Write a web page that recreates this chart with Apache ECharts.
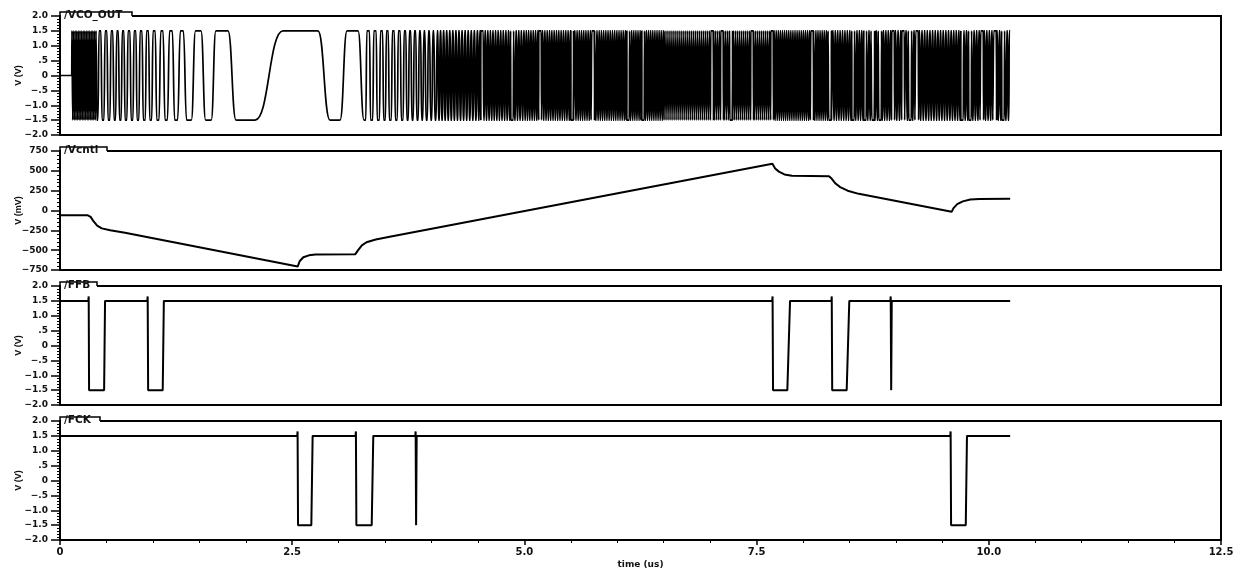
<!DOCTYPE html>
<html>
<head>
<meta charset="utf-8">
<title>Transient waveforms</title>
<script src="https://cdn.jsdelivr.net/npm/echarts@6/dist/echarts.min.js"></script>
<style>
  html, body { margin: 0; padding: 0; background: #fff; }
  #chart { width: 1234px; height: 571px; }
</style>
</head>
<body>
<div id="chart"></div>
<script>
// ---- axis ticks -------------------------------------------------------
const timeTicks = [0, 2.5, 5.0, 7.5, 10.0, 12.5];
const timeTickLabels = ['0', '2.5', '5.0', '7.5', '10.0', '12.5'];
const voltTicks = [2, 1.5, 1, 0.5, 0, -0.5, -1, -1.5, -2];
const voltTickLabels = ['2.0', '1.5', '1.0', '.5', '0', '\u2212.5', '\u22121.0', '\u22121.5', '\u22122.0'];
const mvTicks = [750, 500, 250, 0, -250, -500, -750];
const mvTickLabels = ['750', '500', '250', '0', '\u2212250', '\u2212500', '\u2212750'];

const signalNames = ['/VCO_OUT', '/Vcntl', '/FFB', '/FCK'];
const unitNames = ['V (V)', 'V (mV)', 'V (V)', 'V (V)'];

// ---- /VCO_OUT (V) -------------------------------------------------------
const vcoRail = 1.5;
const vcoStart = 0.126;          // output idles at 0 V before this
const vcoEnd = 10.23;
// fast stretches: [from us, to us, full cycles]
const vcoBurstsEarly = [[0.126, 0.403, 16]];
// resolvable switching edges: [edge start us, edge end us], alternating rise/fall
const vcoEdges = [
  [0.408, 0.421], [0.440, 0.453], [0.473, 0.486], [0.505, 0.518], [0.537, 0.550],
  [0.568, 0.582], [0.598, 0.612], [0.628, 0.641], [0.658, 0.671], [0.688, 0.701],
  [0.720, 0.733], [0.753, 0.766], [0.785, 0.798], [0.817, 0.830], [0.849, 0.863],
  [0.883, 0.897], [0.918, 0.932], [0.953, 0.967], [0.987, 1.002], [1.025, 1.042],
  [1.066, 1.085], [1.109, 1.131], [1.156, 1.180], [1.209, 1.235], [1.266, 1.296],
  [1.328, 1.363], [1.414, 1.459], [1.518, 1.568], [1.628, 1.678],
  [1.809, 1.895], [2.100, 2.401], [2.778, 2.907], [3.015, 3.090], [3.209, 3.273],
  [3.292, 3.304], [3.332, 3.344], [3.367, 3.379], [3.404, 3.416], [3.439, 3.451],
  [3.473, 3.485], [3.503, 3.515], [3.534, 3.546], [3.567, 3.579], [3.599, 3.611],
  [3.631, 3.643], [3.663, 3.675], [3.694, 3.706], [3.723, 3.735], [3.750, 3.762],
  [3.777, 3.789], [3.803, 3.815], [3.830, 3.842], [3.857, 3.869], [3.882, 3.894],
  [3.906, 3.918], [3.929, 3.941], [3.955, 3.967], [3.979, 3.991], [4.003, 4.015],
  [4.025, 4.037], [4.049, 4.061]
];
const vcoBurstsLate = [
  [4.07, 4.5, 13], [4.5, 5.0, 18], [5.0, 5.5, 20], [5.5, 6.0, 21], [6.0, 6.5, 22],
  [6.5, 7.0, 23], [7.0, 7.67, 31], [7.67, 8.3, 28], [8.3, 9.0, 27], [9.0, 9.6, 21],
  [9.6, 10.23, 23]
];
// instants inside the fast stretches where a slightly longer plateau shows through
const vcoGapTimes = [4.544, 4.867, 5.168, 5.513, 5.739, 6.116, 6.277, 7.020, 7.127, 7.225,
  7.451, 7.666, 8.097, 8.290, 8.538, 8.667, 8.754, 8.829, 8.969, 9.077, 9.152, 9.227,
  9.712, 9.798, 9.927, 10.067, 10.153];
const vcoGapWidth = 0.026;

// ---- /Vcntl (mV) ----------------------------------------------------------
const vcntlTime = [0, 0.30, 0.33, 0.36, 0.40, 0.45, 0.54, 0.70, 2.56, 2.58, 2.62, 2.68, 2.75,
  3.18, 3.21, 3.25, 3.30, 3.40, 3.55, 7.67, 7.70, 7.74, 7.80, 7.88, 8.28, 8.31, 8.35, 8.40,
  8.48, 8.60, 9.60, 9.62, 9.66, 9.72, 9.80, 9.90, 10.23];
const vcntlMv = [-60, -60, -80, -135, -190, -225, -250, -280, -705, -640, -590, -565, -555,
  -550, -500, -440, -400, -365, -330, 590, 530, 490, 455, 438, 432, 400, 340, 295,
  250, 210, -17, 30, 80, 115, 138, 145, 147];

// ---- /FFB (V) -------------------------------------------------------------
const ffbTime = [0, 0.305, 0.309, 0.313, 0.475, 0.485, 0.940, 0.944, 0.949, 1.106, 1.118,
  7.668, 7.672, 7.677, 7.831, 7.860, 8.305, 8.309, 8.314, 8.470, 8.498, 8.940, 8.944, 8.949,
  8.955, 10.23];
const ffbVolt = [1.5, 1.5, 1.65, -1.5, -1.5, 1.5, 1.5, 1.65, -1.5, -1.5, 1.5,
  1.5, 1.65, -1.5, -1.5, 1.5, 1.5, 1.65, -1.5, -1.5, 1.5, 1.5, 1.65, -1.5,
  1.5, 1.5];

// ---- /FCK (V) -------------------------------------------------------------
const fckTime = [0, 2.554, 2.558, 2.563, 2.706, 2.720, 3.182, 3.186, 3.191, 3.356, 3.373,
  3.825, 3.829, 3.834, 3.840, 9.585, 9.589, 9.594, 9.752, 9.765, 10.23];
const fckVolt = [1.5, 1.5, 1.65, -1.5, -1.5, 1.5, 1.5, 1.65, -1.5, -1.5, 1.5,
  1.5, 1.65, -1.5, 1.5, 1.5, 1.65, -1.5, -1.5, 1.5, 1.5];

// ---- build the VCO trace from its edges and bursts -------------------------
function buildVco() {
  const pts = [[0, 0], [vcoStart, 0]];
  let level = 0;
  const flip = () => { level = level > 0 ? -vcoRail : vcoRail; };
  const burst = (list) => {
    list.forEach(([t0, t1, n]) => {
      const half = (t1 - t0) / (2 * n);
      const slew = 0.3 * half;
      for (let k = 0; k < 2 * n; k++) {
        let ts = t0 + k * half;
        // edges that land on a gap are pushed to its border
        vcoGapTimes.forEach(g => {
          const a = g - vcoGapWidth / 2, b = g + vcoGapWidth / 2;
          if (ts + slew > a && ts < b) ts = (ts + slew / 2 < g) ? a - slew : b;
        });
        pts.push([ts, level]);
        flip();
        pts.push([ts + slew, level]);
      }
      pts.push([t1, level]);
    });
  };
  burst(vcoBurstsEarly);
  vcoEdges.forEach(([a, b]) => {
    pts.push([a, level]);
    flip();
    pts.push([b, level]);
  });
  burst(vcoBurstsLate);
  pts.push([vcoEnd, level]);
  return pts;
}
const zip = (xs, ys) => xs.map((x, i) => [x, ys[i]]);

// ---- layout ---------------------------------------------------------------
const FONT = 'DejaVu Sans';
const LEFT = 60, RIGHT = 13, HEIGHT = 119;
const tops = [16, 151, 286, 421];
const tabWidths = [72, 47, 37, 40];

const grids = tops.map(top => ({
  left: LEFT, right: RIGHT, top: top, height: HEIGHT,
  outerBoundsMode: 'none', containLabel: false,
  show: true, borderColor: '#000', borderWidth: 2, backgroundColor: 'transparent'
}));

const xAxes = tops.map((top, i) => {
  const last = i === tops.length - 1;
  return {
    type: 'value', gridIndex: i, min: 0, max: 12.5, interval: 2.5,
    position: 'bottom',
    show: last,
    name: last ? 'time (us)' : '',
    nameLocation: 'middle', nameGap: 20, nameMoveOverlap: false,
    nameTextStyle: { fontFamily: FONT, fontWeight: 'bold', fontSize: 9, color: '#111' },
    axisLine: { show: false, onZero: false },
    axisTick: { show: true, length: 5, lineStyle: { color: '#000', width: 1.5 } },
    minorTick: { show: true, splitNumber: 5, length: 3, lineStyle: { color: '#000', width: 1 } },
    splitLine: { show: false },
    axisLabel: {
      margin: 7, fontFamily: FONT, fontWeight: 'bold', fontSize: 10, color: '#111',
      formatter: v => {
        const k = timeTicks.findIndex(t => Math.abs(t - v) < 1e-6);
        return k >= 0 ? timeTickLabels[k] : '';
      }
    }
  };
});

function yAxisFor(i) {
  const mv = i === 1;
  const ticks = mv ? mvTicks : voltTicks;
  const labels = mv ? mvTickLabels : voltTickLabels;
  return {
    type: 'value', gridIndex: i, position: 'left',
    min: mv ? -750 : -2, max: mv ? 750 : 2, interval: mv ? 250 : 0.5,
    name: unitNames[i], nameLocation: 'middle', nameGap: 37, nameRotate: 90,
    nameMoveOverlap: false,
    nameTextStyle: { fontFamily: 'Liberation Sans', fontWeight: 'bold', fontSize: 9, color: '#111' },
    axisLine: { show: false, onZero: false },
    axisTick: { show: true, length: 9, lineStyle: { color: '#000', width: 1.5 } },
    minorTick: { show: true, splitNumber: 5, length: 3, lineStyle: { color: '#000', width: 1 } },
    splitLine: { show: false },
    axisLabel: {
      margin: 12, fontFamily: FONT, fontWeight: 'bold', fontSize: 9, color: '#111',
      formatter: v => {
        const k = ticks.findIndex(t => Math.abs(t - v) < 1e-6);
        return k >= 0 ? labels[k] : '';
      }
    }
  };
}

const lineSeries = (i, data, width, extra) => Object.assign({
  type: 'line', xAxisIndex: i, yAxisIndex: i, data: data,
  showSymbol: false, symbol: 'none', clip: true, animation: false,
  lineStyle: { color: '#000', width: width }
}, extra || {});

const series = [
  lineSeries(0, buildVco(), 1.7, { smooth: 0.5, smoothMonotone: 'x' }),
  lineSeries(1, zip(vcntlTime, vcntlMv), 2),
  lineSeries(2, zip(ffbTime, ffbVolt), 2),
  lineSeries(3, zip(fckTime, fckVolt), 2)
];

// signal name tabs on each panel's top edge
const graphic = [];
tops.forEach((top, i) => {
  const w = tabWidths[i];
  graphic.push({
    type: 'rect', z: 100,
    shape: { x: LEFT + 1, y: top - 4, width: w - 1, height: 7 },
    style: { fill: '#fff' }
  });
  graphic.push({
    type: 'polyline', z: 101,
    shape: { points: [[LEFT, top], [LEFT, top - 4], [LEFT + w, top - 4], [LEFT + w, top]] },
    style: { stroke: '#000', lineWidth: 1.5, fill: null }
  });
  graphic.push({
    type: 'text', z: 102, x: LEFT + 4, y: top - 0.5,
    style: {
      text: signalNames[i], fill: '#111', font: 'bold 10.5px "' + FONT + '"',
      verticalAlign: 'middle', align: 'left'
    }
  });
});

const chart = echarts.init(document.getElementById('chart'), null, { renderer: 'canvas' });
chart.setOption({
  animation: false,
  backgroundColor: '#fff',
  grid: grids,
  xAxis: xAxes,
  yAxis: tops.map((t, i) => yAxisFor(i)),
  series: series,
  graphic: graphic
});
</script>
</body>
</html>
